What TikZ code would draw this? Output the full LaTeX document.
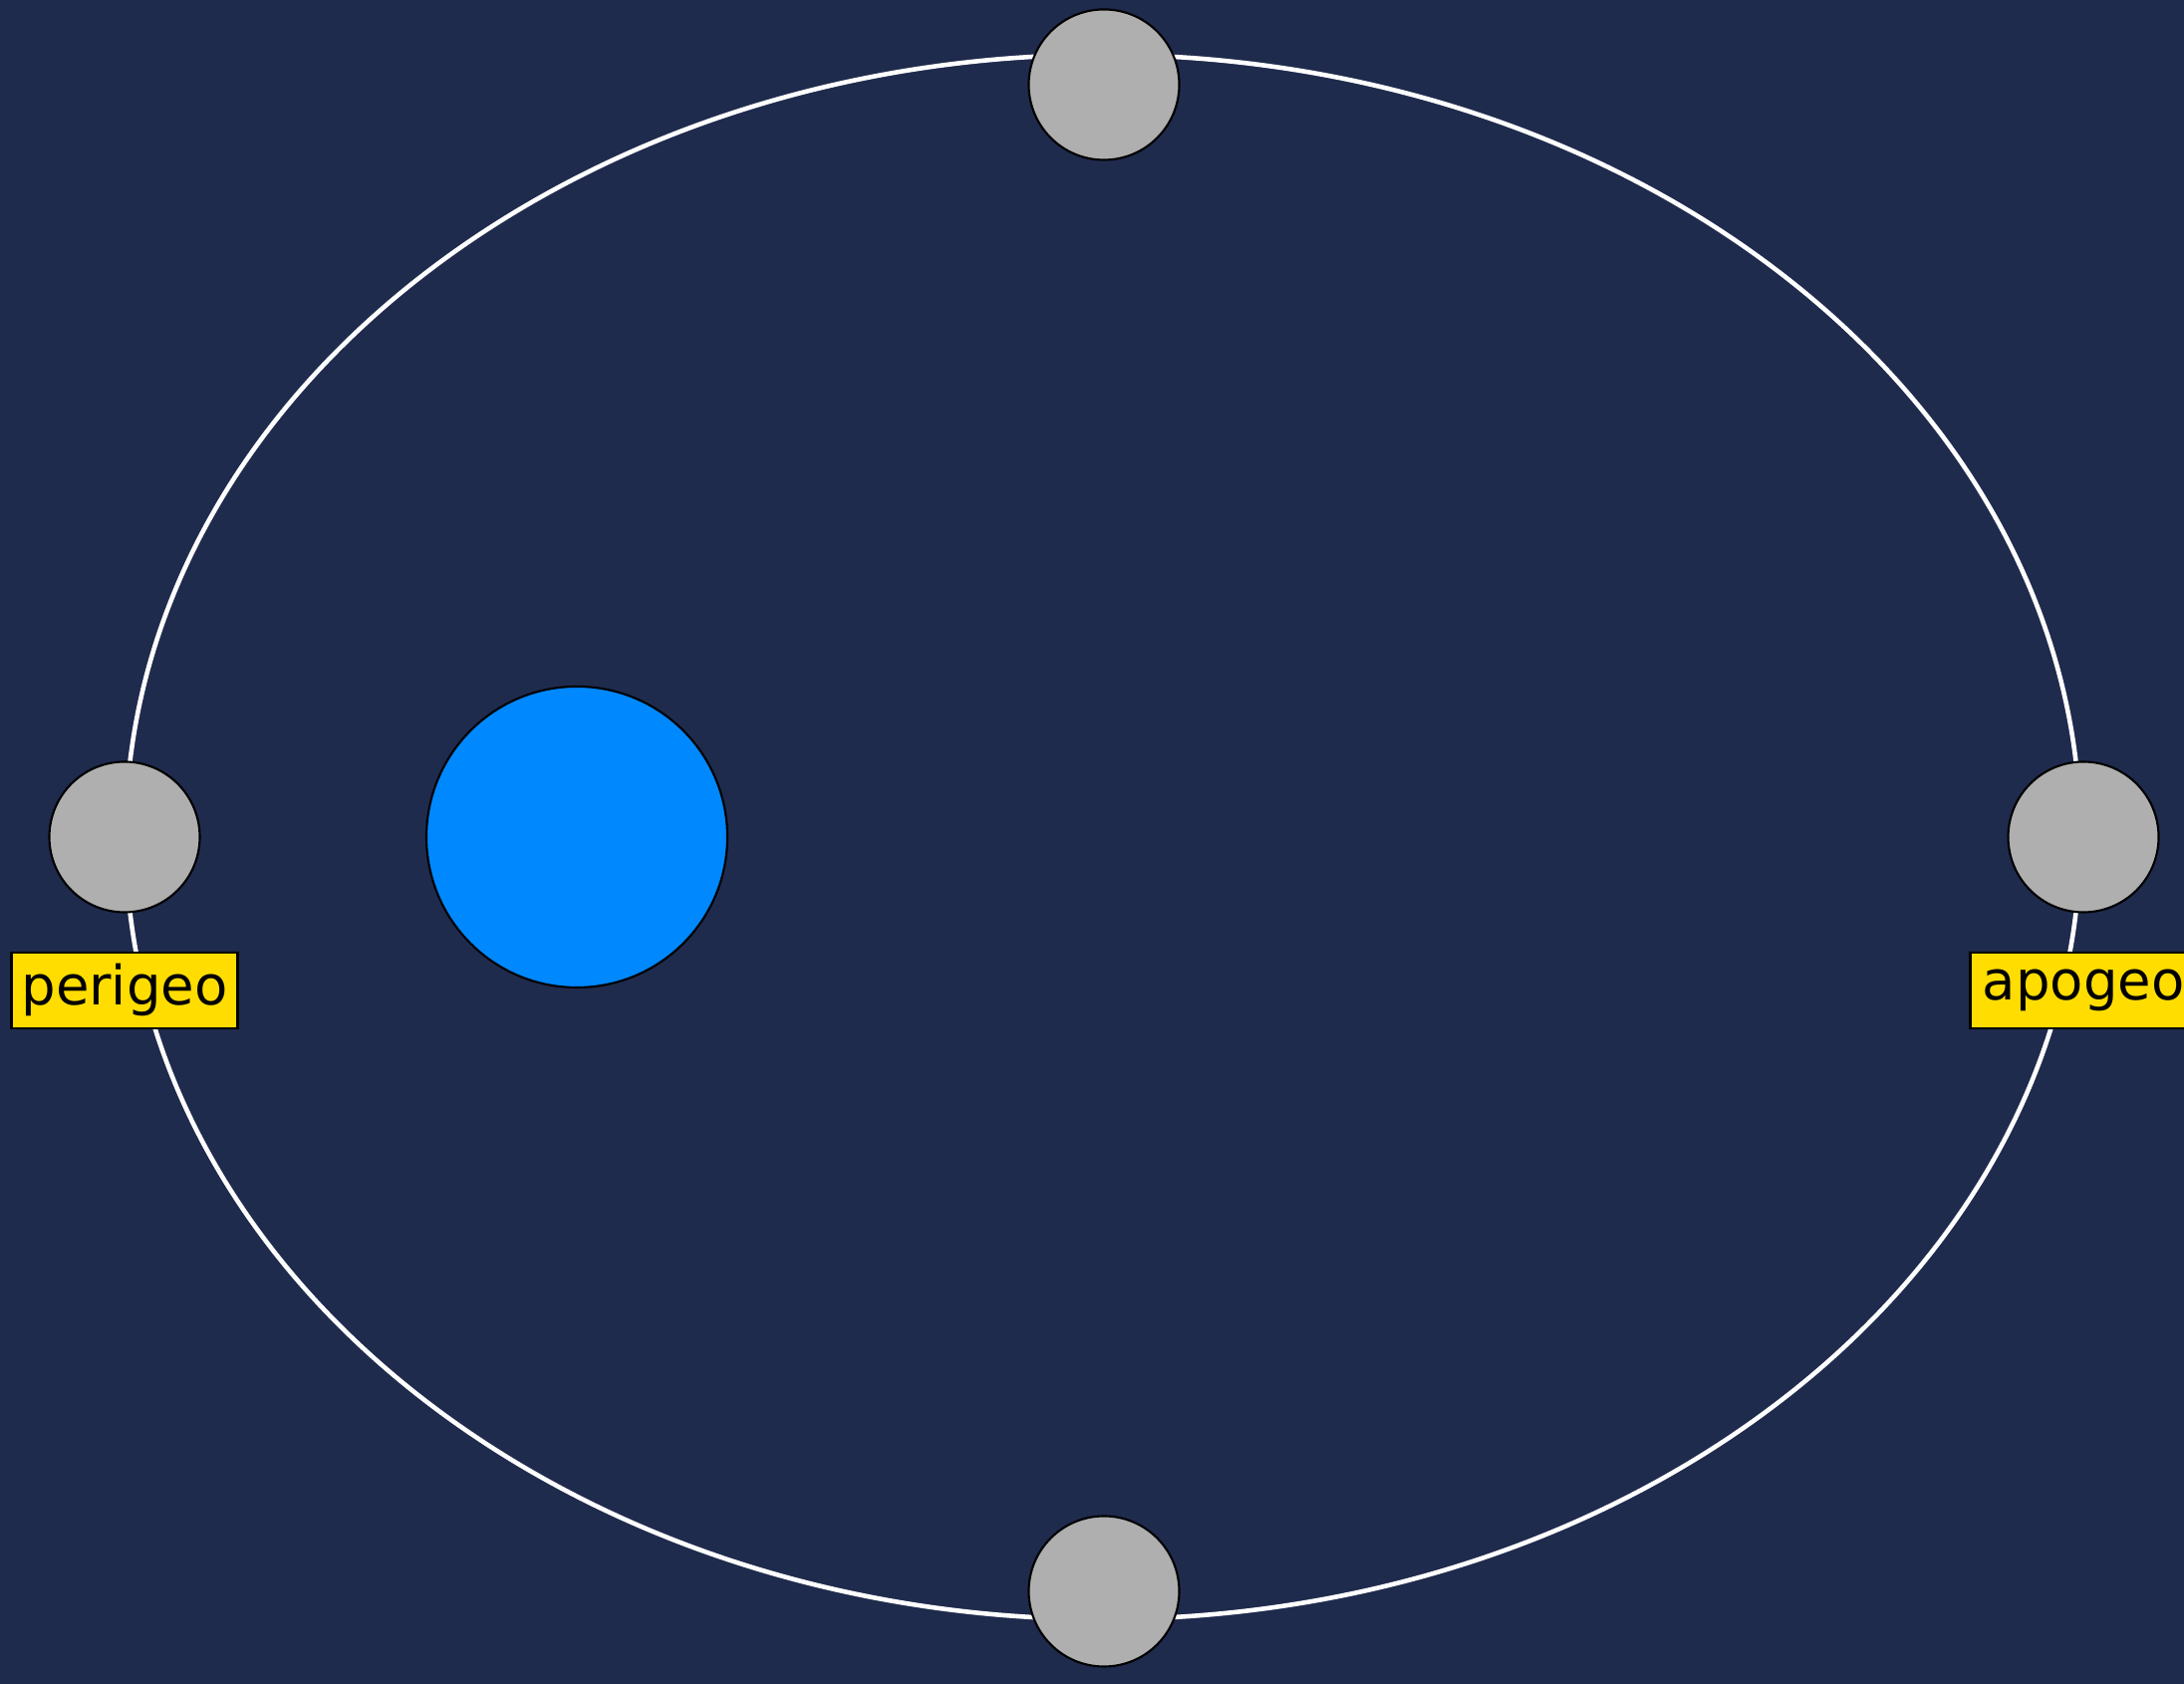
\documentclass[tikz,border=0pt]{standalone}
\usepackage{fontspec}
\setmainfont{DejaVu Sans}
\usepackage{xcolor}
\usetikzlibrary{positioning}
\definecolor{spacebg}{HTML}{1F2B4D}
\definecolor{earthblue}{HTML}{0088FF}
\definecolor{moongray}{HTML}{AFAFAF}
\definecolor{tagyellow}{HTML}{FFDD00}
\tikzstyle{orbit} = [draw=white, line width=1.3pt]
\tikzstyle{moon} = [circle, minimum size=1.51cm, inner sep=0pt, draw=black, line width=0.6pt, fill=moongray]
\tikzstyle{planet} = [circle, minimum size=3.02cm, inner sep=0pt, draw=black, line width=0.6pt, fill=earthblue]
\tikzstyle{tag} = [rectangle, minimum width=2.27cm, minimum height=0.76cm, inner sep=0pt, text centered, draw=black, line width=0.6pt, fill=tagyellow, font=\fontsize{15.5}{17}\selectfont]

\begin{document}
\begin{tikzpicture}
  \clip (0,0) rectangle (21.92,16.90);
  \fill[spacebg] (0,0) rectangle (21.92,16.90);
  % Orbit
  \draw[orbit] (11.07,8.50) ellipse [x radius=9.81cm, y radius=7.85cm];
  \node[planet] (earth) at (5.79,8.50) {};
  % Moon positions
  \node[moon] (peri) at (1.25,8.50) {};
  \node[moon] (apo) at (20.91,8.50) {};
  \node[moon] (top) at (11.08,16.05) {};
  \node[moon] (bottom) at (11.08,0.93) {};
  % Labels
  \node[tag, below=0.38cm of peri] (perilabel) {perigeo};
  \node[tag, below=0.38cm of apo] (apolabel) {apogeo};
\end{tikzpicture}
\end{document}
